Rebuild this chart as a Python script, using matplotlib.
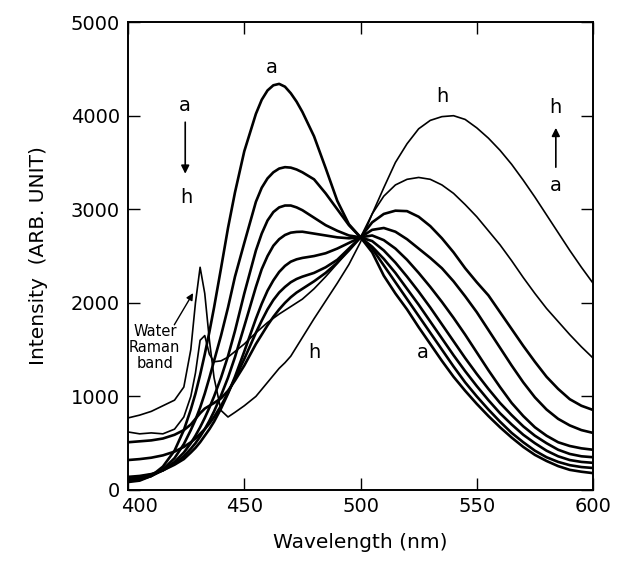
from matplotlib import pyplot as plt
from matplotlib import transforms

# wavelength grid (nm), denser around the water Raman band and the first peaks
wavelengths = [400, 405, 410, 415, 420, 424, 427, 429, 431, 433, 435, 437, 440, 443, 446,
               450, 455, 457.5, 460, 462.5, 465, 467.5, 470, 472.5, 475, 480, 485, 490, 495, 500,
               505, 510, 515, 520, 525, 530, 535, 540, 545, 550, 555, 560, 565, 570,
               575, 580, 585, 590, 595, 600]

# spectra, from a (highest peak at 465 nm) to h (highest peak at 538 nm)
spec_a = [85, 100, 150, 250, 420, 640, 860, 1030, 1230, 1450, 1690, 1950, 2370, 2800, 3180,
          3620, 4020, 4170, 4270, 4325, 4340, 4310, 4240, 4150, 4040, 3780, 3440, 3090, 2840, 2700,
          2540, 2290, 2100, 1930, 1740, 1560, 1380, 1210, 1060, 920, 790, 670, 560, 460,
          375, 310, 255, 215, 195, 180]
spec_b = [95, 110, 150, 220, 340, 490, 640, 750, 880, 1030, 1200, 1380, 1650, 1950, 2280,
          2640, 3080, 3230, 3330, 3395, 3435, 3450, 3445, 3425, 3395, 3320, 3170, 3000, 2830, 2700,
          2580, 2400, 2220, 2040, 1860, 1680, 1500, 1320, 1150, 1000, 860, 730, 610, 510,
          420, 350, 300, 265, 245, 235]
spec_c = [110, 120, 150, 210, 300, 400, 500, 580, 670, 770, 880, 1000, 1200, 1430, 1700,
          2100, 2560, 2740, 2880, 2970, 3020, 3040, 3040, 3020, 2990, 2910, 2830, 2770, 2720, 2700,
          2600, 2470, 2320, 2150, 1980, 1800, 1620, 1440, 1270, 1110, 960, 820, 700, 590,
          500, 420, 360, 320, 300, 290]
spec_d = [130, 140, 165, 210, 280, 360, 440, 500, 570, 650, 740, 840, 1010, 1200, 1420,
          1750, 2170, 2360, 2500, 2610, 2680, 2725, 2750, 2758, 2760, 2740, 2720, 2700, 2690, 2700,
          2660, 2560, 2430, 2280, 2120, 1950, 1770, 1590, 1410, 1240, 1080, 930, 800, 680,
          580, 500, 430, 385, 360, 350]
spec_e = [140, 150, 170, 210, 270, 330, 400, 450, 510, 580, 650, 730, 870, 1030, 1210,
          1480, 1830, 1990, 2130, 2240, 2330, 2395, 2440, 2465, 2480, 2500, 2530, 2580, 2640, 2700,
          2720, 2670, 2580, 2460, 2320, 2170, 2010, 1840, 1660, 1470, 1280, 1100, 930, 790,
          670, 580, 510, 470, 445, 430]
spec_f = [320, 330, 345, 370, 410, 460, 510, 550, 600, 650, 710, 780, 900, 1040, 1190,
          1400, 1680, 1810, 1930, 2030, 2110, 2170, 2220, 2255, 2280, 2320, 2380, 2460, 2580, 2700,
          2780, 2800, 2760, 2680, 2580, 2480, 2370, 2230, 2070, 1900, 1710, 1520, 1330, 1150,
          990, 860, 760, 690, 640, 610]
spec_g = [510, 520, 530, 550, 590, 640, 700, 760, 820, 870, 900, 930, 980, 1060, 1170,
          1330, 1560, 1660, 1760, 1850, 1930, 2000, 2060, 2110, 2150, 2230, 2320, 2430, 2560, 2700,
          2860, 2950, 2985, 2980, 2920, 2820, 2690, 2540, 2370, 2220, 2080, 1900, 1720, 1540,
          1370, 1210, 1080, 970, 900, 855]
spec_g2 = [620, 600, 610, 600, 650, 780, 1000, 1250, 1600, 1650, 1450, 1370, 1380, 1420, 1480,
           1560, 1680, 1735, 1790, 1835, 1880, 1920, 1960, 2000, 2040, 2150, 2280, 2420, 2570, 2700,
           2950, 3140, 3260, 3320, 3340, 3320, 3260, 3170, 3050, 2920, 2770, 2620, 2450, 2270,
           2100, 1940, 1800, 1660, 1530, 1410]
spec_h = [770, 800, 840, 900, 960, 1100, 1500, 2000, 2380, 2100, 1600, 1200, 850, 780, 830,
          900, 1000, 1075, 1150, 1225, 1300, 1360, 1430, 1530, 1630, 1830, 2020, 2210, 2410, 2650,
          2950, 3230, 3500, 3700, 3860, 3950, 3990, 4000, 3960, 3870, 3760, 3630, 3480, 3310,
          3130, 2940, 2750, 2560, 2380, 2210]

smooth_spectra = [spec_a, spec_b, spec_c, spec_d, spec_e, spec_f, spec_g]
noisy_spectra = [spec_g2, spec_h]

x_ticks = [400, 450, 500, 550, 600]
y_ticks = [0, 1000, 2000, 3000, 4000, 5000]


def add_labels(ax):
    fs = 14
    ax.text(462, 4520, 'a', fontsize=fs, ha='center', va='center')
    ax.text(535, 4200, 'h', fontsize=fs, ha='center', va='center')
    ax.text(480, 1470, 'h', fontsize=fs, ha='center', va='center')
    ax.text(527, 1470, 'a', fontsize=fs, ha='center', va='center')

    # left: a -> h arrow
    ax.text(424.6, 4110, 'a', fontsize=fs, ha='center', va='center')
    ax.annotate('', xy=(424.6, 3350), xytext=(424.6, 3960),
                arrowprops=dict(arrowstyle='-|>', color='black', lw=1.2, mutation_scale=12))
    ax.text(425.2, 3130, 'h', fontsize=fs, ha='center', va='center')

    # right: a -> h arrow
    ax.text(584, 4090, 'h', fontsize=fs, ha='center', va='center')
    ax.annotate('', xy=(584, 3900), xytext=(584, 3420),
                arrowprops=dict(arrowstyle='-|>', color='black', lw=1.2, mutation_scale=12))
    ax.text(584, 3250, 'a', fontsize=fs, ha='center', va='center')

    ax.text(411.5, 1520, 'Water\nRaman\nband', fontsize=10.5, ha='center', va='center',
            linespacing=1.1)
    ax.annotate('', xy=(428.6, 2130), xytext=(419.3, 1740),
                arrowprops=dict(arrowstyle='-|>', color='black', lw=1.0, mutation_scale=10))


def main():
    fig = plt.figure(figsize=(6.2, 5.63), dpi=100)
    ax = fig.add_axes([0.2065, 0.1297, 0.750, 0.831])

    for ys in smooth_spectra:
        ax.plot(wavelengths, ys, color='black', lw=1.9, solid_joinstyle='round')
    for ys in noisy_spectra:
        ax.plot(wavelengths, ys, color='black', lw=1.2, solid_joinstyle='round')

    add_labels(ax)

    ax.set_xlim(400, 600)
    ax.set_ylim(0, 5000)
    ax.set_xticks(x_ticks)
    ax.set_yticks(y_ticks)
    ax.tick_params(direction='in', length=8.5, width=1.0, labelsize=14,
                   top=True, right=True, pad=6)
    ax.tick_params(axis='x', pad=5)
    for s in ax.spines.values():
        s.set_linewidth(1.4)

    # the "400" label sits a little to the right, clear of the "0"
    first = ax.xaxis.get_major_ticks()[0].label1
    first.set_transform(first.get_transform() +
                        transforms.ScaledTranslation(0.11, 0, fig.dpi_scale_trans))

    ax.set_xlabel('Wavelength (nm)', fontsize=14.5, labelpad=12)
    ax.set_ylabel('Intensity  (ARB. UNIT)', fontsize=14.5, labelpad=16)

    fig.savefig('out.png', dpi=100)


if __name__ == '__main__':
    main()
